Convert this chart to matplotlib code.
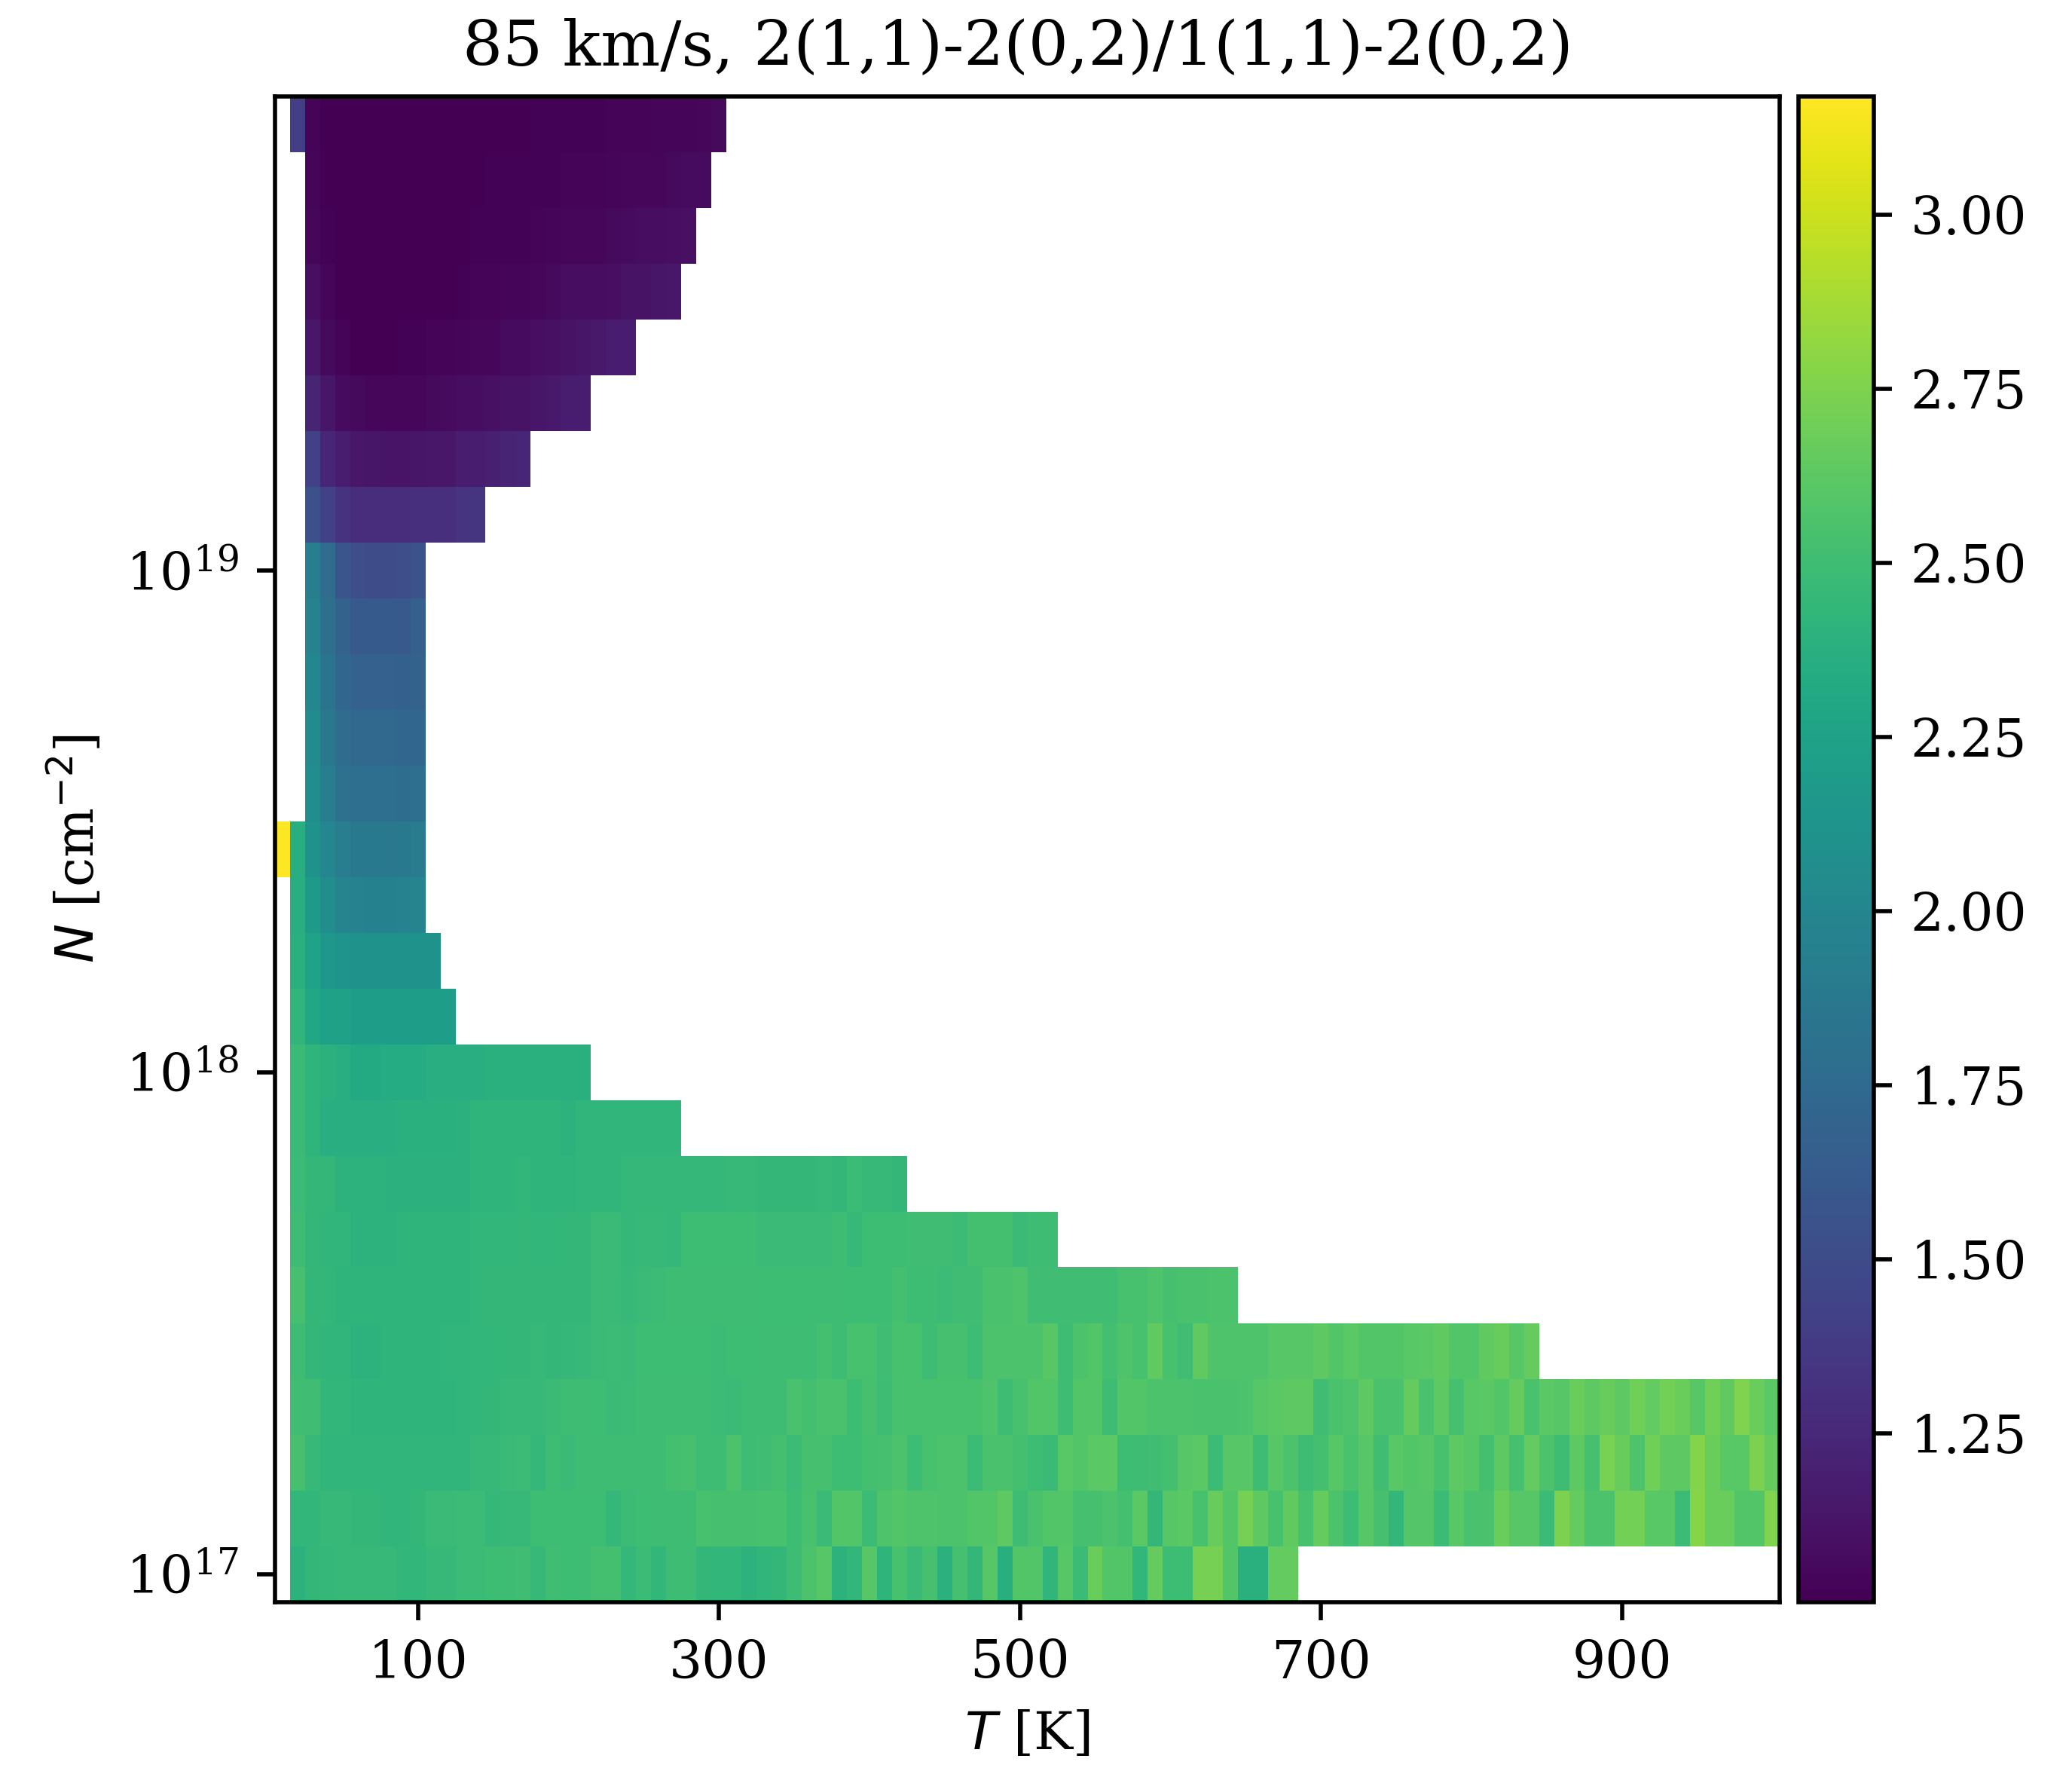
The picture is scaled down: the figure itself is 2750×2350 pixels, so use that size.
import numpy as np
import matplotlib
matplotlib.use("Agg")
import matplotlib.pyplot as plt
from matplotlib.ticker import FixedLocator, NullLocator

# temperature grid [K]
T_K = [10, 20, 30, 40, 50, 60, 70, 80, 90, 100,
       110, 120, 130, 140, 150, 160, 170, 180, 190, 200,
       210, 220, 230, 240, 250, 260, 270, 280, 290, 300,
       310, 320, 330, 340, 350, 360, 370, 380, 390, 400,
       410, 420, 430, 440, 450, 460, 470, 480, 490, 500,
       510, 520, 530, 540, 550, 560, 570, 580, 590, 600,
       610, 620, 630, 640, 650, 660, 670, 680, 690, 700,
       710, 720, 730, 740, 750, 760, 770, 780, 790, 800,
       810, 820, 830, 840, 850, 860, 870, 880, 890, 900,
       910, 920, 930, 940, 950, 960, 970, 980, 990, 1000]

# log10 column density, bottom row first
log_N = [17.000, 17.111, 17.222, 17.333, 17.444, 17.556, 17.667, 17.778, 17.889,
         18.000, 18.111, 18.222, 18.333, 18.444, 18.556, 18.667, 18.778, 18.889,
         19.000, 19.111, 19.222, 19.333, 19.444, 19.556, 19.667, 19.778, 19.889]

# temperature of the first filled cell in each row
first_T = [20, 20, 20, 20, 20, 20, 20, 20, 20, 20, 20, 20, 20,
           10, 30, 30, 30, 30, 30, 30, 30, 30, 30, 30, 30, 30, 20]

# line ratio per row
row_00 = [2.40, 2.44, 2.45, 2.46, 2.46, 2.46, 2.46, 2.43, 2.43,
          2.46, 2.46, 2.48, 2.48, 2.49, 2.50, 2.51, 2.46, 2.51, 2.49,
          2.50, 2.52, 2.52, 2.45, 2.48, 2.43, 2.50, 2.50, 2.44, 2.43,
          2.43, 2.40, 2.42, 2.44, 2.50, 2.56, 2.60, 2.40, 2.43, 2.60,
          2.41, 2.54, 2.47, 2.53, 2.39, 2.53, 2.44, 2.60, 2.37, 2.58,
          2.58, 2.42, 2.60, 2.48, 2.68, 2.58, 2.58, 2.43, 2.66, 2.49,
          2.49, 2.72, 2.72, 2.58, 2.38, 2.38, 2.65, 2.65]
row_01 = [2.43, 2.43, 2.46, 2.46, 2.44, 2.44, 2.42, 2.42, 2.44,
          2.47, 2.47, 2.48, 2.48, 2.45, 2.46, 2.46, 2.49, 2.49, 2.49,
          2.49, 2.49, 2.45, 2.48, 2.49, 2.50, 2.50, 2.50, 2.54, 2.53,
          2.53, 2.53, 2.54, 2.54, 2.49, 2.54, 2.47, 2.58, 2.58, 2.48,
          2.57, 2.58, 2.57, 2.57, 2.56, 2.56, 2.58, 2.58, 2.63, 2.50,
          2.55, 2.58, 2.58, 2.53, 2.53, 2.56, 2.52, 2.62, 2.44, 2.60,
          2.62, 2.54, 2.67, 2.58, 2.72, 2.63, 2.54, 2.64, 2.54, 2.66,
          2.56, 2.49, 2.60, 2.53, 2.43, 2.59, 2.59, 2.48, 2.61, 2.55,
          2.55, 2.68, 2.60, 2.60, 2.48, 2.74, 2.65, 2.56, 2.56, 2.71,
          2.71, 2.61, 2.61, 2.48, 2.78, 2.68, 2.68, 2.58, 2.58, 2.75]
row_02 = [2.53, 2.46, 2.42, 2.42, 2.42, 2.42, 2.42, 2.42, 2.42,
          2.42, 2.42, 2.42, 2.46, 2.46, 2.47, 2.48, 2.45, 2.50, 2.47,
          2.50, 2.50, 2.50, 2.50, 2.50, 2.50, 2.52, 2.53, 2.50, 2.50,
          2.56, 2.50, 2.51, 2.52, 2.48, 2.53, 2.53, 2.49, 2.49, 2.52,
          2.53, 2.56, 2.49, 2.54, 2.56, 2.56, 2.48, 2.55, 2.55, 2.52,
          2.49, 2.47, 2.61, 2.58, 2.62, 2.62, 2.49, 2.50, 2.51, 2.52,
          2.60, 2.62, 2.48, 2.60, 2.60, 2.50, 2.60, 2.56, 2.50, 2.52,
          2.60, 2.55, 2.60, 2.51, 2.61, 2.58, 2.60, 2.54, 2.63, 2.60,
          2.52, 2.63, 2.53, 2.65, 2.56, 2.50, 2.63, 2.53, 2.73, 2.67,
          2.57, 2.70, 2.63, 2.63, 2.77, 2.68, 2.61, 2.61, 2.74, 2.66]
row_03 = [2.51, 2.51, 2.43, 2.43, 2.41, 2.41, 2.41, 2.41, 2.41,
          2.41, 2.41, 2.42, 2.43, 2.44, 2.46, 2.46, 2.46, 2.47, 2.50,
          2.50, 2.49, 2.47, 2.48, 2.50, 2.50, 2.50, 2.50, 2.50, 2.48,
          2.47, 2.50, 2.50, 2.50, 2.55, 2.52, 2.55, 2.55, 2.49, 2.53,
          2.50, 2.54, 2.54, 2.54, 2.54, 2.54, 2.54, 2.57, 2.50, 2.54,
          2.58, 2.58, 2.50, 2.58, 2.58, 2.50, 2.58, 2.58, 2.56, 2.56,
          2.56, 2.55, 2.55, 2.55, 2.56, 2.60, 2.62, 2.63, 2.63, 2.51,
          2.55, 2.57, 2.63, 2.55, 2.55, 2.66, 2.55, 2.63, 2.53, 2.61,
          2.62, 2.58, 2.66, 2.55, 2.62, 2.60, 2.68, 2.63, 2.67, 2.63,
          2.70, 2.65, 2.71, 2.68, 2.60, 2.70, 2.64, 2.75, 2.68, 2.62]
row_04 = [2.50, 2.44, 2.42, 2.42, 2.40, 2.40, 2.41, 2.41, 2.41,
          2.41, 2.42, 2.42, 2.43, 2.43, 2.44, 2.44, 2.46, 2.44, 2.45,
          2.46, 2.47, 2.48, 2.47, 2.49, 2.49, 2.49, 2.49, 2.49, 2.48,
          2.49, 2.49, 2.50, 2.50, 2.50, 2.50, 2.52, 2.50, 2.54, 2.54,
          2.51, 2.54, 2.54, 2.50, 2.53, 2.53, 2.49, 2.56, 2.56, 2.56,
          2.56, 2.60, 2.50, 2.56, 2.58, 2.52, 2.57, 2.54, 2.64, 2.54,
          2.51, 2.64, 2.57, 2.57, 2.57, 2.57, 2.60, 2.60, 2.60, 2.63,
          2.58, 2.62, 2.58, 2.58, 2.58, 2.61, 2.62, 2.64, 2.58, 2.58,
          2.64, 2.67, 2.60, 2.66]
row_05 = [2.53, 2.44, 2.43, 2.41, 2.41, 2.41, 2.41, 2.41, 2.41,
          2.41, 2.41, 2.41, 2.43, 2.44, 2.44, 2.44, 2.44, 2.44, 2.44,
          2.44, 2.47, 2.47, 2.46, 2.47, 2.48, 2.50, 2.50, 2.50, 2.50,
          2.50, 2.50, 2.49, 2.49, 2.49, 2.49, 2.50, 2.50, 2.49, 2.49,
          2.49, 2.52, 2.49, 2.50, 2.48, 2.51, 2.51, 2.55, 2.55, 2.57,
          2.51, 2.51, 2.51, 2.51, 2.51, 2.51, 2.54, 2.54, 2.57, 2.53,
          2.55, 2.55, 2.56, 2.56]
row_06 = [2.50, 2.44, 2.42, 2.42, 2.40, 2.40, 2.40, 2.41, 2.41,
          2.41, 2.41, 2.41, 2.43, 2.43, 2.43, 2.44, 2.43, 2.43, 2.44,
          2.44, 2.47, 2.47, 2.45, 2.46, 2.46, 2.45, 2.49, 2.49, 2.49,
          2.49, 2.49, 2.47, 2.47, 2.47, 2.47, 2.47, 2.50, 2.46, 2.49,
          2.49, 2.49, 2.51, 2.51, 2.51, 2.48, 2.52, 2.52, 2.52, 2.47,
          2.50, 2.50]
row_07 = [2.48, 2.44, 2.44, 2.40, 2.40, 2.40, 2.39, 2.39, 2.39,
          2.39, 2.39, 2.39, 2.41, 2.41, 2.41, 2.43, 2.41, 2.41, 2.41,
          2.42, 2.42, 2.42, 2.45, 2.45, 2.45, 2.45, 2.45, 2.45, 2.45,
          2.46, 2.46, 2.44, 2.44, 2.44, 2.44, 2.46, 2.44, 2.48, 2.46,
          2.46, 2.44]
row_08 = [2.47, 2.41, 2.36, 2.36, 2.36, 2.36, 2.36, 2.38, 2.38,
          2.38, 2.38, 2.39, 2.41, 2.41, 2.41, 2.41, 2.41, 2.41, 2.40,
          2.42, 2.42, 2.42, 2.42, 2.42, 2.42, 2.42]
row_09 = [2.47, 2.41, 2.39, 2.36, 2.32, 2.32, 2.34, 2.34, 2.34,
          2.36, 2.36, 2.36, 2.36, 2.38, 2.38, 2.38, 2.38, 2.38, 2.38, 2.38]
row_10 = [2.42, 2.30, 2.24, 2.24, 2.20, 2.20, 2.20, 2.20, 2.20, 2.20, 2.20]
row_11 = [2.38, 2.25, 2.16, 2.13, 2.10, 2.10, 2.10, 2.10, 2.10, 2.11]
row_12 = [2.36, 2.17, 2.07, 1.98, 1.96, 1.95, 1.95, 1.96, 1.98]
row_13 = [3.17, 2.36, 2.10, 2.00, 1.92, 1.88, 1.88, 1.87, 1.88, 1.90]
row_14 = [2.07, 1.92, 1.81, 1.78, 1.78, 1.78, 1.77, 1.78]
row_15 = [2.03, 1.87, 1.76, 1.73, 1.73, 1.73, 1.71, 1.72]
row_16 = [2.00, 1.84, 1.72, 1.67, 1.67, 1.67, 1.66, 1.68]
row_17 = [1.96, 1.79, 1.69, 1.60, 1.61, 1.61, 1.60, 1.65]
row_18 = [1.92, 1.76, 1.57, 1.52, 1.50, 1.50, 1.52, 1.55]
row_19 = [1.54, 1.42, 1.32, 1.28, 1.28, 1.28, 1.28, 1.30, 1.30, 1.30, 1.33, 1.34]
row_20 = [1.42, 1.24, 1.17, 1.14, 1.13, 1.12, 1.12, 1.13, 1.14, 1.14, 1.17, 1.18,
          1.20, 1.22, 1.24]
row_21 = [1.22, 1.13, 1.07, 1.06, 1.05, 1.05, 1.05, 1.05, 1.06, 1.07, 1.08, 1.08,
          1.10, 1.11, 1.11, 1.13, 1.15, 1.18, 1.18]
row_22 = [1.14, 1.06, 1.03, 1.008, 1.01, 1.01, 1.02, 1.02, 1.03, 1.03, 1.04, 1.05,
          1.05, 1.07, 1.07, 1.09, 1.10, 1.11, 1.13, 1.15, 1.17, 1.18]
row_23 = [1.09, 1.04, 1.01, 1.01, 1.01, 1.01, 1.01, 1.01, 1.01, 1.01, 1.02, 1.03,
          1.03, 1.04, 1.04, 1.05, 1.06, 1.08, 1.08, 1.08, 1.09, 1.11, 1.11, 1.13, 1.14]
row_24 = [1.05, 1.02, 1.01, 1.01, 1.01, 1.01, 1.01, 1.01, 1.01, 1.01, 1.01, 1.02,
          1.02, 1.02, 1.02, 1.03, 1.04, 1.05, 1.05, 1.05, 1.06, 1.07, 1.08, 1.08, 1.09, 1.10]
row_25 = [1.04, 1.01, 1.01, 1.01, 1.01, 1.01, 1.01, 1.01, 1.01, 1.01, 1.01, 1.01,
          1.02, 1.02, 1.02, 1.02, 1.02, 1.03, 1.03, 1.03, 1.04, 1.05, 1.05, 1.05,
          1.06, 1.07, 1.07]
row_26 = [1.40, 1.03, 1.01, 1.01, 1.01, 1.01, 1.01, 1.01, 1.01, 1.01, 1.01, 1.01,
          1.01, 1.01, 1.01, 1.01, 1.02, 1.02, 1.02, 1.02, 1.02, 1.03, 1.03, 1.03,
          1.04, 1.04, 1.04, 1.05, 1.06]

rows = [row_00, row_01, row_02, row_03, row_04, row_05, row_06, row_07, row_08,
        row_09, row_10, row_11, row_12, row_13, row_14, row_15, row_16, row_17,
        row_18, row_19, row_20, row_21, row_22, row_23, row_24, row_25, row_26]

x_ticks = [100, 300, 500, 700, 900]
y_ticks = [1e17, 1e18, 1e19]
cbar_ticks = [1.25, 1.50, 1.75, 2.00, 2.25, 2.50, 2.75, 3.00]
title = "85 km/s, 2(1,1)-2(0,2)/1(1,1)-2(0,2)"

plt.rcParams["font.family"] = "DejaVu Serif"
plt.rcParams["font.size"] = 10

# fill the grid, cells outside the rows stay empty
T = np.array(T_K, dtype=float)
Z = np.full((len(log_N), len(T_K)), np.nan)
for i, vals in enumerate(rows):
    j = T_K.index(first_T[i])
    Z[i, j:j + len(vals)] = vals
Z = np.ma.masked_invalid(Z)

# cell edges from the centres
T_mid = (T[:-1] + T[1:]) / 2
T_edges = np.concatenate([[T[0] - 5], T_mid, [T[-1] + 5]])
logN = np.array(log_N)
logN_mid = (logN[:-1] + logN[1:]) / 2
N_edges = 10 ** np.concatenate([[logN[0] - 0.0555], logN_mid, [logN[-1] + 0.0555]])

fig = plt.figure(figsize=(5.5, 4.7), dpi=500)
ax = fig.add_axes([208 / 1568, 1 - 1212 / 1340, 1139 / 1568, 1139 / 1340])
cax = fig.add_axes([1361 / 1568, 1 - 1212 / 1340, 57 / 1568, 1139 / 1340])

mesh = ax.pcolormesh(T_edges, N_edges, Z, cmap="viridis", shading="flat")
ax.set_yscale("log")
ax.set_xlim(T_edges[0], T_edges[-1])
ax.set_ylim(N_edges[0], N_edges[-1])
ax.xaxis.set_major_locator(FixedLocator(x_ticks))
ax.yaxis.set_major_locator(FixedLocator(y_ticks))
ax.yaxis.set_minor_locator(NullLocator())
ax.set_xlabel(r"$T$ [K]")
ax.set_ylabel(r"$N$ [cm$^{-2}$]")
ax.set_title(title, fontsize=12, x=0.4934)

cbar = fig.colorbar(mesh, cax=cax)
cbar.set_ticks(cbar_ticks)
cbar.set_ticklabels([f"{v:.2f}" for v in cbar_ticks])

fig.savefig("out.png", dpi=500)
